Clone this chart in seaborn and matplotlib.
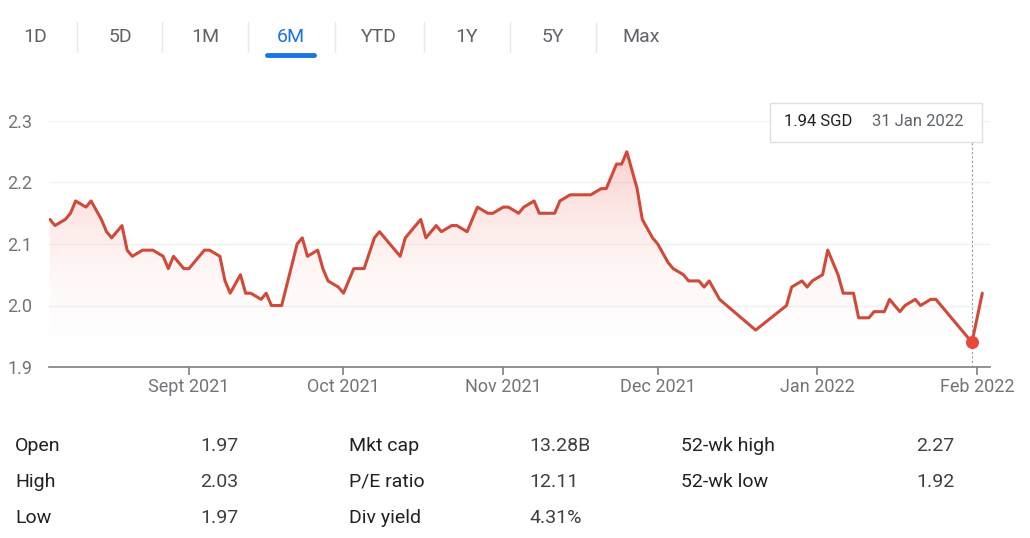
import numpy as np
import pandas as pd
import matplotlib
matplotlib.use("Agg")
import matplotlib.pyplot as plt
import matplotlib.dates as mdates
from matplotlib.patches import Polygon, FancyBboxPatch
import seaborn as sns

sns.set_theme(style="white")
plt.rcParams['font.family'] = ['Roboto', 'DejaVu Sans']

dates = ["2021-08-05","2021-08-06","2021-08-08","2021-08-09","2021-08-10","2021-08-12","2021-08-13","2021-08-15",
 "2021-08-16","2021-08-17","2021-08-19","2021-08-20","2021-08-21","2021-08-23","2021-08-25","2021-08-27",
 "2021-08-28","2021-08-29","2021-08-31",
 "2021-09-01","2021-09-03","2021-09-04","2021-09-05","2021-09-07","2021-09-08","2021-09-09","2021-09-11",
 "2021-09-12","2021-09-13","2021-09-15","2021-09-16","2021-09-17","2021-09-19","2021-09-22","2021-09-23",
 "2021-09-24","2021-09-26","2021-09-27","2021-09-28","2021-09-30",
 "2021-10-01","2021-10-03","2021-10-05","2021-10-07","2021-10-08","2021-10-10","2021-10-12","2021-10-13",
 "2021-10-14","2021-10-16","2021-10-17","2021-10-19","2021-10-20","2021-10-22","2021-10-23","2021-10-25",
 "2021-10-26","2021-10-27","2021-10-29","2021-10-30",
 "2021-11-01","2021-11-02","2021-11-04","2021-11-05","2021-11-07","2021-11-08","2021-11-11","2021-11-12",
 "2021-11-14","2021-11-18","2021-11-20","2021-11-21","2021-11-23","2021-11-24","2021-11-25","2021-11-27",
 "2021-11-28","2021-11-30",
 "2021-12-01","2021-12-03","2021-12-04","2021-12-06","2021-12-07","2021-12-09","2021-12-10","2021-12-11",
 "2021-12-13","2021-12-20","2021-12-26","2021-12-27","2021-12-29","2021-12-30","2021-12-31",
 "2022-01-02","2022-01-03","2022-01-05","2022-01-06","2022-01-08","2022-01-09","2022-01-11","2022-01-12",
 "2022-01-14","2022-01-15","2022-01-17","2022-01-18","2022-01-20","2022-01-21","2022-01-23","2022-01-24",
 "2022-01-25","2022-01-31","2022-02-02"]
prices = [2.14,2.13,2.14,2.15,2.17,2.16,2.17,2.14,2.12,2.11,2.13,2.09,2.08,2.09,2.09,2.08,2.06,2.08,2.06,
 2.06,2.08,2.09,2.09,2.08,2.04,2.02,2.05,2.02,2.02,2.01,2.02,2.00,2.00,2.10,2.11,2.08,2.09,2.06,2.04,2.03,
 2.02,2.06,2.06,2.11,2.12,2.10,2.08,2.11,2.12,2.14,2.11,2.13,2.12,2.13,2.13,2.12,2.14,2.16,2.15,2.15,
 2.16,2.16,2.15,2.16,2.17,2.15,2.15,2.17,2.18,2.18,2.19,2.19,2.23,2.23,2.25,2.19,2.14,2.11,
 2.10,2.07,2.06,2.05,2.04,2.04,2.03,2.04,2.01,1.96,2.00,2.03,2.04,2.03,2.04,
 2.05,2.09,2.05,2.02,2.02,1.98,1.98,1.99,1.99,2.01,1.99,2.00,2.01,2.00,2.01,2.01,2.00,1.94,2.02]
yticks = [1.9, 2.0, 2.1, 2.2, 2.3]
tabs = ["1D", "5D", "1M", "6M", "YTD", "1Y", "5Y", "Max"]
stats_labels = [["Open", "High", "Low"], ["Mkt cap", "P/E ratio", "Div yield"], ["52-wk high", "52-wk low"]]
stats_values = [["1.97", "2.03", "1.97"], ["13.28B", "12.11", "4.31%"], ["2.27", "1.92"]]
tooltip_price = "1.94 SGD"
tooltip_date = "31 Jan 2022"

df = pd.DataFrame({"date": pd.to_datetime(dates), "price": prices})
W, H = 1030, 538
fig = plt.figure(figsize=(W/100, H/100), dpi=100)
ax = fig.add_axes([49/W, 1-367/H, (990-49)/W, (367-121)/H])

red = "#d04a3a"
sns.lineplot(data=df, x="date", y="price", ax=ax, color=red, linewidth=2.2, zorder=4)
ax.set_xlim(pd.Timestamp("2021-08-04 20:00"), pd.Timestamp("2022-02-03 12:00"))
ax.set_ylim(1.9, 2.3)
ax.set_xlabel("")
ax.set_ylabel("")

xn = mdates.date2num(df["date"])
x0, x1 = ax.get_xlim()
grad = np.linspace(0.0, 1.0, 256).reshape(-1, 1)
cmap = matplotlib.colors.LinearSegmentedColormap.from_list("g", [(1, 1, 1, 0), (0.93, 0.35, 0.30, 0.28)])
im = ax.imshow(grad, extent=[x0, x1, 1.9, 2.25], origin="lower", aspect="auto", cmap=cmap, zorder=2)
poly = Polygon(np.column_stack([np.r_[xn[0], xn, xn[-1]], np.r_[1.9, df["price"], 1.9]]), closed=True,
               transform=ax.transData, facecolor="none", edgecolor="none")
ax.add_patch(poly)
im.set_clip_path(poly)
ax.set_xlim(x0, x1)

ax.set_yticks(yticks)
ax.set_yticklabels([f"{v:.1f}" for v in yticks])
ax.grid(axis="y", color="#f1f1f1", linewidth=1)
ax.grid(axis="x", visible=False)
for s in ["top", "right", "left"]:
    ax.spines[s].set_visible(False)
ax.spines["bottom"].set_color("#7f7f7f")
ax.spines["bottom"].set_linewidth(1.2)
ax.xaxis.set_major_locator(mdates.MonthLocator(bymonth=[9, 10, 11, 12, 1, 2]))
ax.xaxis.set_major_formatter(matplotlib.ticker.FuncFormatter(
    lambda v, p: (lambda d: ("Sept " if d.month == 9 else d.strftime("%b ")) + d.strftime("%Y"))(mdates.num2date(v))))
ax.tick_params(axis="x", length=6, color="#7f7f7f", width=1.2, labelsize=13, labelcolor="#70757a", pad=2, bottom=True)
ax.tick_params(axis="y", length=0, labelsize=13, labelcolor="#70757a", pad=12)

last = df.iloc[-2]
lx = mdates.date2num(last["date"])
ax.plot([lx, lx], [1.9, 2.285], color="#999999", linestyle=(0, (2, 2)), linewidth=0.8, zorder=3)
ax.scatter([lx], [last["price"]], s=70, color="#e8473b", zorder=5)

fig.patches.append(FancyBboxPatch((770/W, 1-142/H), (982-770)/W, 39/H, boxstyle="square,pad=0",
                                  transform=fig.transFigure, facecolor="white", edgecolor="#e0e0e0",
                                  linewidth=1, zorder=10))
fig.text(784/W, 1-122/H, tooltip_price, fontsize=12, color="#202124", va="center", zorder=11)
fig.text(872/W, 1-122/H, tooltip_date, fontsize=12, color="#5f6368", va="center", zorder=11)

tab_x = [35, 120, 205, 291, 379, 467, 553, 641]
for t, x in zip(tabs, tab_x):
    fig.text(x/W, 1-37/H, t, fontsize=14, ha="center", va="center",
             color="#1a73e8" if t == "6M" else "#5f6368")
for sx in [77, 162, 248, 335, 424, 510, 596]:
    fig.add_artist(plt.Line2D([sx/W, sx/W], [1-52/H, 1-22/H], color="#e8e8e8", linewidth=1))
fig.add_artist(plt.Line2D([267/W, 314/W], [1-55/H, 1-55/H], color="#1a73e8", linewidth=3.5, solid_capstyle="round"))

rows_y = [446, 482, 518]
label_x = [15, 349, 681]
value_x = [200, 529, 916]
for c in range(3):
    for r, (lab, val) in enumerate(zip(stats_labels[c], stats_values[c])):
        fig.text(label_x[c]/W, 1-rows_y[r]/H, lab, fontsize=14, color="#202124", va="center")
        fig.text(value_x[c]/W, 1-rows_y[r]/H, val, fontsize=14, color="#3c4043", va="center")

fig.savefig("out.png", dpi=100, facecolor="white")
